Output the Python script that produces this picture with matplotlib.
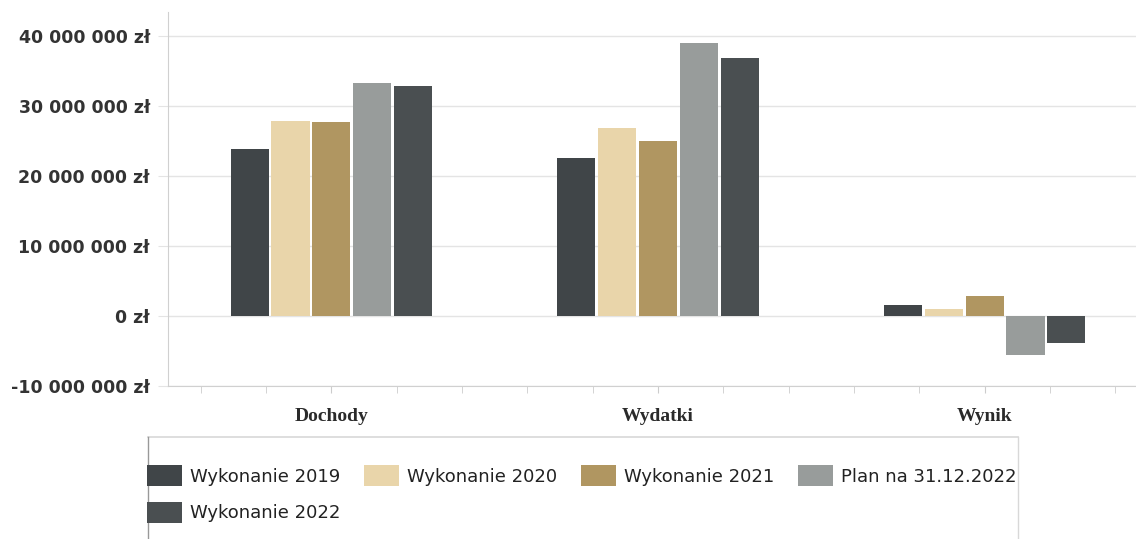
import matplotlib
matplotlib.use('Agg')
import matplotlib.pyplot as plt
from matplotlib.ticker import FuncFormatter, MultipleLocator
from matplotlib.lines import Line2D
import numpy as np

# data (zł)
categories = ['Dochody', 'Wydatki', 'Wynik']
series_names = ['Wykonanie 2019', 'Wykonanie 2020', 'Wykonanie 2021',
                'Plan na 31.12.2022', 'Wykonanie 2022']
wyk_2019 = [23.9e6, 22.6e6, 1.6e6]
wyk_2020 = [27.9e6, 26.9e6, 1.0e6]
wyk_2021 = [27.7e6, 25.0e6, 2.9e6]
plan_2022 = [33.3e6, 39.0e6, -5.6e6]
wyk_2022 = [32.9e6, 36.9e6, -3.8e6]
series = [wyk_2019, wyk_2020, wyk_2021, plan_2022, wyk_2022]
colors = ['#404548', '#e9d5aa', '#b09661', '#989c9b', '#4a4f51']

W, H = 1136, 539
fig = plt.figure(figsize=(W / 100, H / 100), dpi=100)
ax = fig.add_axes([168 / W, 1 - 386 / H, (1148 - 168) / W, (386 - 12) / H])

x = np.arange(len(categories))
step = 0.125
width = 0.117
bars = []
for i, (vals, col) in enumerate(zip(series, colors)):
    offs = (i - 2) * step
    bars.append(ax.bar(x + offs, vals, width, color=col, label=series_names[i], zorder=3))

ax.set_xlim(-0.5, 2.5)
ax.set_ylim(-10e6, 43.4e6)
ax.set_yticks(np.arange(-10e6, 40e6 + 1, 10e6))


def zl(v, pos):
    s = f"{int(round(v)):,}".replace(',', ' ')
    return s + ' zł'


ax.yaxis.set_major_formatter(FuncFormatter(zl))
ax.grid(axis='y', color='#e4e4e4', linewidth=1, zorder=0)
ax.set_xticks(x)
ax.set_xticklabels(categories, family='Liberation Serif', fontweight='bold',
                   fontsize=14, color='#2a2a2a')
ax.xaxis.set_minor_locator(MultipleLocator(0.2))
ax.tick_params(axis='x', which='both', length=5, color='#cccccc', pad=11)
ax.tick_params(axis='y', length=7, color='#e4e4e4', labelsize=12.5, labelcolor='#333333', pad=6)
for lab in ax.get_yticklabels():
    lab.set_fontweight('bold')

for side in ['top', 'right']:
    ax.spines[side].set_visible(False)
ax.spines['left'].set_color('#d0d0d0')
ax.spines['bottom'].set_color('#d0d0d0')

# legend box drawn by hand
fig.add_artist(Line2D([148 / W, 1018 / W], [1 - 437 / H, 1 - 437 / H], color='#d8d8d8', lw=1.2))
fig.add_artist(Line2D([148 / W, 148 / W], [1 - 437 / H, 0], color='#999999', lw=1))
fig.add_artist(Line2D([1018 / W, 1018 / W], [1 - 437 / H, 0], color='#d8d8d8', lw=1))

# row-major order: 2019, 2020, 2021, Plan / 2022
order = [0, 4, 1, 2, 3]
fs = 13.0
leg = fig.legend([bars[k] for k in order], [series_names[k] for k in order],
                 loc='upper left', bbox_to_anchor=(147 / W, 1 - 465 / H), ncol=4,
                 frameon=False, fontsize=fs, handlelength=1.94, handleheight=1.44,
                 handletextpad=0.45, columnspacing=1.3, labelspacing=0.85,
                 borderpad=0, borderaxespad=0)
for t in leg.get_texts():
    t.set_color('#222222')

fig.savefig('out.png', dpi=100)
